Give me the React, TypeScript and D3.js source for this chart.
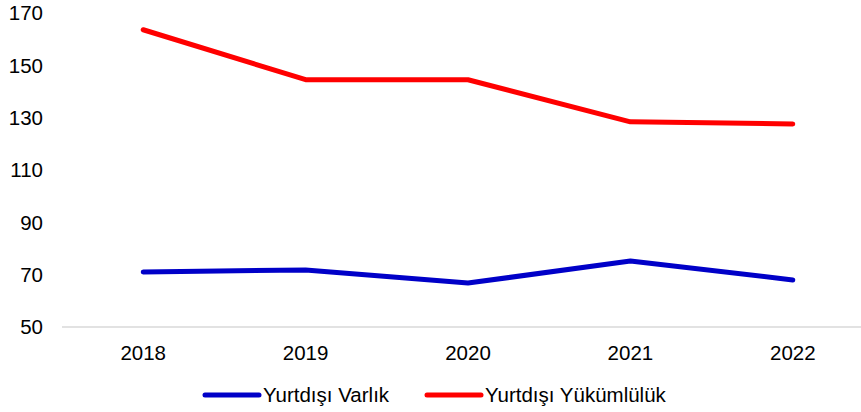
import React, { useEffect, useRef } from 'react';
import * as d3 from 'd3';

const years = ['2018', '2019', '2020', '2021', '2022'];
const varlik = [71, 71.8, 66.8, 75.2, 68];
const yukumluluk = [163.6, 144.5, 144.5, 128.4, 127.6];
const yTicks = [50, 70, 90, 110, 130, 150, 170];

const App = () => {
  const svgRef = useRef<SVGSVGElement>(null);

  useEffect(() => {
    const svg = d3.select(svgRef.current);
    svg.selectAll('*').remove();

    const width = 861;
    const height = 412;
    const font = '"Liberation Sans", Arial, sans-serif';
    const fontSize = '20.5px';

    const x = d3.scaleBand().domain(years).range([62, 874]);
    const y = d3.scaleLinear().domain([50, 170]).range([327, 13]);

    // y tick labels
    svg.append('g')
      .selectAll('text')
      .data(yTicks)
      .enter()
      .append('text')
      .attr('x', 43)
      .attr('y', d => y(d))
      .attr('dy', '0.35em')
      .attr('text-anchor', 'end')
      .style('font-family', font)
      .style('font-size', fontSize)
      .style('fill', '#000')
      .text(d => d);

    // x axis line
    svg.append('line')
      .attr('x1', 62)
      .attr('x2', width)
      .attr('y1', y(50))
      .attr('y2', y(50))
      .attr('stroke', '#d9d9d9')
      .attr('stroke-width', 1.5);

    // x labels
    svg.append('g')
      .selectAll('text')
      .data(years)
      .enter()
      .append('text')
      .attr('x', d => (x(d) as number) + x.bandwidth() / 2)
      .attr('y', 360)
      .attr('text-anchor', 'middle')
      .style('font-family', font)
      .style('font-size', fontSize)
      .style('fill', '#000')
      .text(d => d);

    const series = [
      { name: 'Yurtdışı Varlık', values: varlik, color: '#0000c8' },
      { name: 'Yurtdışı Yükümlülük', values: yukumluluk, color: '#ff0000' },
    ];

    const line = d3.line<number>()
      .x((_, i) => (x(years[i]) as number) + x.bandwidth() / 2)
      .y(d => y(d));

    series.forEach(s => {
      svg.append('path')
        .datum(s.values)
        .attr('d', line)
        .attr('fill', 'none')
        .attr('stroke', s.color)
        .attr('stroke-width', 5)
        .attr('stroke-linecap', 'round')
        .attr('stroke-linejoin', 'round');
    });

    // legend
    const legendX = [205, 427];
    series.forEach((s, i) => {
      const g = svg.append('g').attr('transform', `translate(${legendX[i]},395)`);
      g.append('line')
        .attr('x1', 0)
        .attr('x2', 54)
        .attr('stroke', s.color)
        .attr('stroke-width', 5)
        .attr('stroke-linecap', 'round');
      g.append('text')
        .attr('x', 58)
        .attr('dy', '0.35em')
        .style('font-family', font)
        .style('font-size', fontSize)
        .style('fill', '#000')
        .text(s.name);
    });

    svg.attr('width', width).attr('height', height);
  }, []);

  return (
    <svg ref={svgRef} width={861} height={412} style={{ position: 'absolute', left: 0, top: 0 }} />
  );
};

export default App;
